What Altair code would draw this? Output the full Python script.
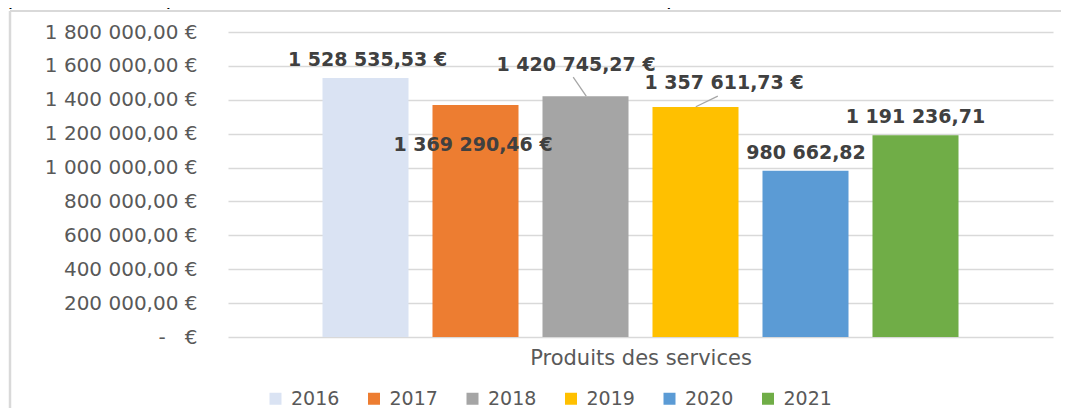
import altair as alt
import pandas as pd

# ---- data ----
years = ["2016", "2017", "2018", "2019", "2020", "2021"]
values = [1528535.53, 1369290.46, 1420745.27, 1357611.73, 980662.82, 1191236.71]
value_labels = ["1 528 535,53 €", "1 369 290,46 €", "1 420 745,27 €",
                "1 357 611,73 €", "980 662,82", "1 191 236,71"]
colors = ["#DAE3F3", "#ED7D31", "#A5A5A5", "#FFC000", "#5B9BD5", "#70AD47"]
category = "Produits des services"
y_ticks = [0, 200000, 400000, 600000, 800000, 1000000, 1200000, 1400000, 1600000, 1800000]
y_tick_labels = ["-\u00a0\u00a0\u00a0€", "200 000,00 €", "400 000,00 €", "600 000,00 €",
                 "800 000,00 €", "1 000 000,00 €", "1 200 000,00 €", "1 400 000,00 €",
                 "1 600 000,00 €", "1 800 000,00 €"]
intro_text = "que les années précédentes, les effets de la situation sanitaire persistent encore en 2021."

df = pd.DataFrame({"year": years, "value": values, "label": value_labels})

# ---- styling ----
FONT = "DejaVu Sans"
label_expr = "''"
for v, l in zip(y_ticks, y_tick_labels):
    label_expr = f"datum.value == {v} ? '{l}' : " + label_expr

x_enc = alt.X("year:N", bandPosition=0.5,
              scale=alt.Scale(paddingInner=0.218, paddingOuter=0.859),
              axis=alt.Axis(labels=False, ticks=False, domain=False, title=category,
                            titleFont=FONT, titleFontSize=21, titleFontWeight="normal",
                            titleColor="#595959", titlePadding=10))
y_axis = alt.Axis(values=y_ticks, tickCount=10, labelExpr=label_expr, grid=True,
                  gridColor="#D9D9D9", gridWidth=1.4, domain=False,
                  ticks=False, tickSize=0, labelPadding=31, title=None,
                  labelOverlap=False, labelBound=False,
                  labelFont=FONT, labelFontSize=20, labelColor="#595959")
y_scale = alt.Scale(domain=[0, 1800000], nice=False)


def y_enc():
    return alt.Y("value:Q", scale=y_scale, axis=y_axis)


base = alt.Chart(df)

bars = base.mark_bar().encode(
    x=x_enc,
    y=y_enc(),
    color=alt.Color("year:N", scale=alt.Scale(domain=years, range=colors),
                    legend=alt.Legend(title=None, orient="none", legendX=38, legendY=357,
                                      direction="horizontal", symbolType="square",
                                      symbolSize=144, symbolStrokeWidth=0,
                                      labelFont=FONT, labelFontSize=19,
                                      labelColor="#595959", labelOffset=6,
                                      columnPadding=24.5, padding=0)),
)

# per-label pixel offsets (dx, dy) relative to bar top-center
offsets = {"2016": (2, -18), "2017": (-2.5, 39.6), "2018": (-9.5, -31.7),
           "2019": (28.5, -23.9), "2020": (0.5, -18.3), "2021": (0, -18.6)}
texts = []
for yr in years:
    dx, dy = offsets[yr]
    texts.append(
        base.transform_filter(alt.datum.year == yr)
        .mark_text(dx=dx, dy=dy, font=FONT, fontWeight="bold", fontSize=19,
                   color="#404040", baseline="middle", align="center")
        .encode(x=x_enc, y=y_enc(), text="label:N")
    )

leaders = []
leader_offsets = {"2018": (-12.3, -19.2, 0.7, -0.2), "2019": (22.3, -10.9, 0.3, -0.2)}
for yr, (x1, y1, x2, y2) in leader_offsets.items():
    leaders.append(
        base.transform_filter(alt.datum.year == yr)
        .mark_rule(xOffset=x1, yOffset=y1, x2Offset=x2, y2Offset=y2,
                   color="#A6A6A6", strokeWidth=1.3)
        .encode(x=x_enc,
                x2=alt.X2("year:N", bandPosition=0.5),
                y=y_enc(), y2="value:Q")
    )

one = alt.Data(values=[{}])
frame_left = alt.Chart(one).mark_rule(color="#D9D9D9", strokeWidth=2.5).encode(
    x=alt.value(-218), y=alt.value(-21), y2=alt.value(400))
frame_top = alt.Chart(one).mark_rule(color="#D9D9D9", strokeWidth=2).encode(
    x=alt.value(-218), x2=alt.value(833), y=alt.value(-21))
intro = alt.Chart(one).mark_text(align="left", baseline="alphabetic", font=FONT,
                                 fontSize=21, color="#000000").encode(
    x=alt.value(-228), y=alt.value(-27), text=alt.value(intro_text))

chart = alt.layer(bars, *leaders, *texts, frame_left, frame_top, intro).properties(
    width=825, height=305,
    padding={"left": 220, "top": 24, "right": 8, "bottom": 71},
    autosize=alt.AutoSizeParams(type="none"),
    background="white",
).configure_view(stroke=None)

chart.save("out.html", embed_options={"renderer": "svg", "actions": False})
